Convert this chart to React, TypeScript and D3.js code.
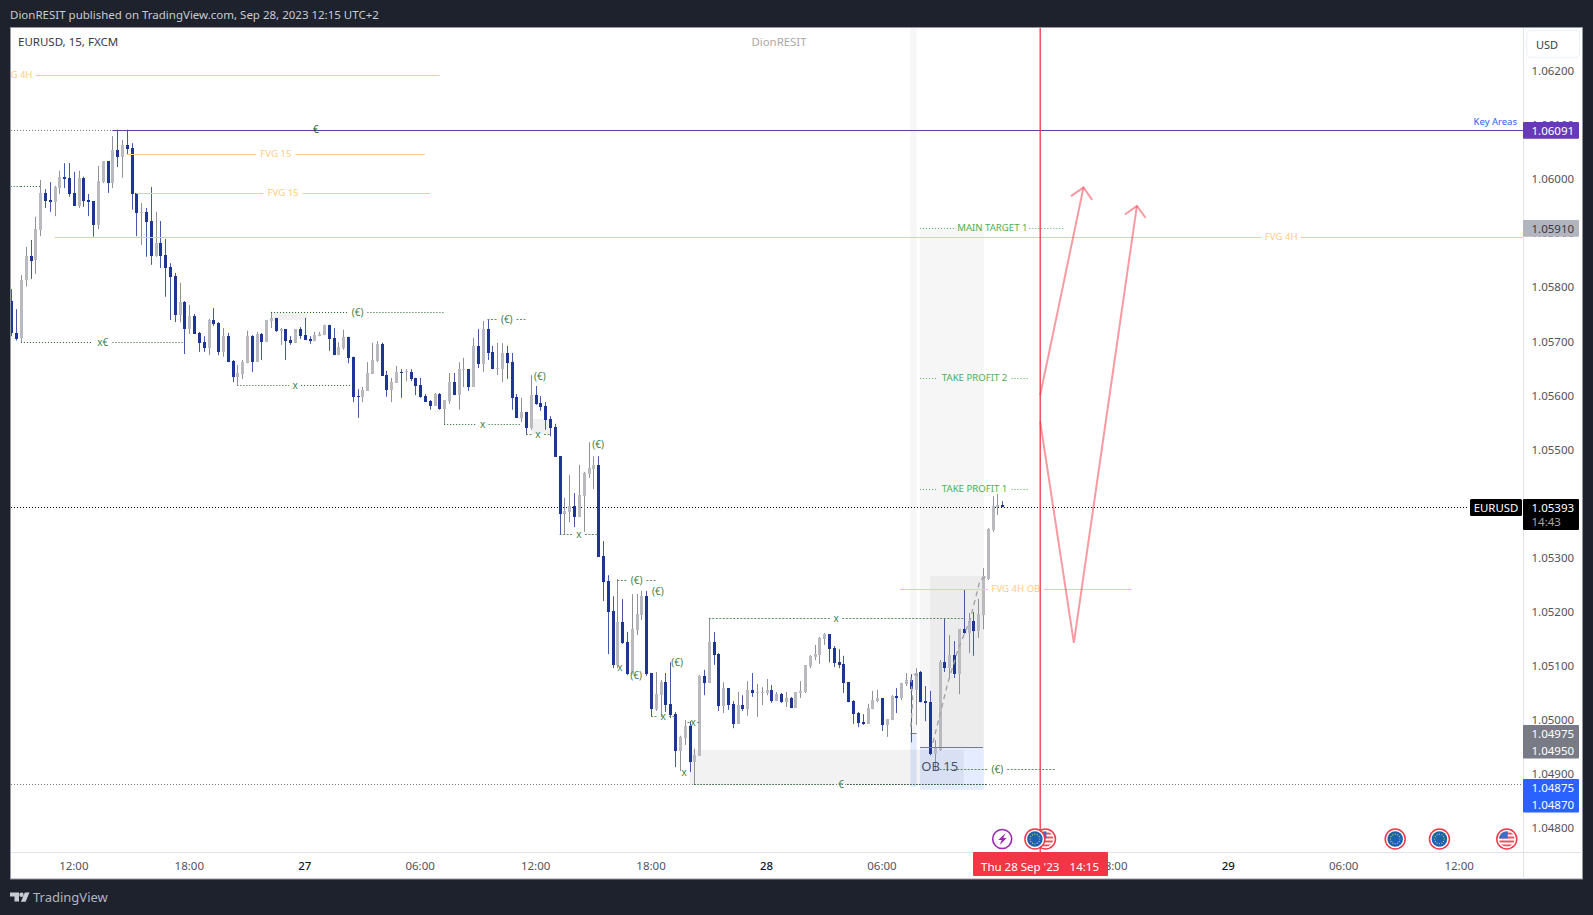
import React from 'react';
import * as d3 from 'd3';

const WIDTH = 1593;
const HEIGHT = 915;
const FONT = '"Noto Sans", sans-serif';

// 15 minute candles, EURUSD, in points (price x 100000)
const highs = [
  105796,105759,105822,105874,105887,105930,105998,105981,105994,105987,
  106015,106029,106029,106013,106015,106004,105972,105959,106024,106033,
  106033,106079,106091,106072,106091,106066,105974,105955,105946,105985,
  105939,105922,105889,105844,105826,105808,105774,105767,105750,105717,
  105709,105741,105761,105735,105724,105715,105665,105656,105665,105719,
  105711,105717,105715,105739,105754,105743,105724,105722,105709,105722,
  105726,105743,105709,105717,105717,105730,105730,105724,105698,105721,
  105708,105671,105611,105615,105661,105697,105700,105697,105645,105632,
  105654,105648,105648,105648,105632,105632,105602,105591,105604,105604,
  105591,105641,105641,105661,105669,105648,105706,105722,105737,105741,
  105691,105697,105696,105691,105678,105602,105595,105569,105637,105617,
  105598,105587,105561,105547,105487,105410,105452,105419,105471,105458,
  105513,105487,105487,105330,105267,105228,105260,105223,105162,105232,
  105232,105238,105238,105086,105088,105073,105086,105106,105014,104970,
  104999,104997,104946,105082,105092,105188,105162,105123,105069,105058,
  105034,105051,105045,105071,105086,105066,105060,105075,105064,105051,
  105049,105051,105042,105051,105071,105101,105119,105138,105153,105160,
  105158,105136,105130,105118,105069,105036,105014,105010,105029,105053,
  105055,105040,105001,105045,105058,105068,105086,105084,105095,105090,
  105062,105053,104962,105110,105187,105156,105145,105167,105241,105197,
  105199,105223,105280,105354,105413,105417,105404,
];
const opens = [
  105774,105715,105705,105812,105857,105849,105906,105974,105961,105958,
  105983,106004,106002,105974,105950,106002,105961,105959,105915,105994,
  106033,105992,106053,106041,106063,106057,105974,105937,105939,105922,
  105857,105881,105859,105837,105820,105748,105772,105722,105746,105715,
  105698,105687,105739,105734,105680,105709,105663,105633,105639,105659,
  105709,105661,105713,105698,105737,105743,105719,105722,105702,105697,
  105722,105711,105704,105700,105709,105711,105730,105706,105674,105687,
  105708,105671,105599,105597,105608,105639,105663,105695,105637,105610,
  105623,105643,105643,105643,105632,105619,105599,105589,105580,105602,
  105574,105589,105624,105600,105647,105648,105615,105691,105658,105722,
  105680,105648,105648,105678,105661,105597,105558,105569,105539,105600,
  105585,105580,105556,105541,105487,105380,105384,105395,105375,105413,
  105454,105463,105471,105302,105256,105201,105101,105180,105143,105084,
  105166,105193,105228,105086,105019,105045,105069,105029,105010,104942,
  104966,104988,104921,104933,105081,105068,105143,105121,105025,105058,
  105029,104992,105027,105019,105055,105049,105049,105049,105055,105034,
  105047,105032,105040,105021,105049,105051,105099,105116,105119,105149,
  105158,105132,105106,105103,105069,105034,105012,104995,104992,105019,
  105034,105040,104990,104999,105044,105040,105066,105073,105055,105088,
  105034,105032,104936,104944,105106,105095,105119,105084,105167,105160,
  105182,105164,105193,105260,105350,105393,105397,
];
const closes = [
  105714,105704,105813,105857,105848,105907,105974,105959,105957,105985,
  106003,106000,105972,105950,106002,105959,105957,105915,105996,106033,
  105992,106053,106041,106063,106055,105972,105937,105939,105920,105857,
  105881,105857,105835,105819,105748,105772,105722,105746,105713,105697,
  105687,105739,105732,105680,105709,105661,105633,105641,105661,105709,
  105661,105713,105698,105739,105743,105719,105722,105700,105697,105722,
  105709,105702,105700,105711,105713,105730,105704,105674,105689,105708,
  105669,105597,105597,105610,105641,105665,105695,105636,105610,105624,
  105643,105641,105645,105630,105617,105597,105587,105580,105602,105574,
  105591,105624,105600,105648,105648,105615,105691,105658,105722,105678,
  105648,105650,105678,105659,105595,105558,105569,105539,105600,105584,
  105578,105554,105539,105486,105380,105386,105395,105375,105415,105456,
  105465,105471,105301,105254,105199,105101,105180,105142,105084,105167,
  105195,105228,105084,105019,105047,105069,105027,105008,104942,104968,
  104988,104921,104934,105081,105068,105143,105119,105025,105058,105027,
  104992,105027,105019,105055,105049,105051,105051,105055,105034,105047,
  105032,105040,105021,105051,105053,105101,105118,105121,105151,105158,
  105130,105105,105101,105068,105032,105010,104994,104992,105021,105036,
  105040,104990,105001,105044,105040,105068,105073,105056,105086,105032,
  105031,104936,104947,105106,105095,105119,105084,105167,105160,105182,
  105164,105195,105265,105352,105395,105397,105393,
];
const lows = [
  105709,105701,105697,105801,105815,105824,105894,105946,105939,105931,
  105972,105983,105967,105950,105946,105948,105931,105893,105907,105992,
  105974,105983,106022,106002,106046,105943,105894,105878,105856,105841,
  105856,105835,105782,105739,105735,105735,105676,105713,105713,105680,
  105680,105674,105728,105674,105671,105661,105624,105618,105630,105659,
  105643,105661,105665,105698,105724,105717,105693,105665,105693,105697,
  105704,105702,105695,105700,105709,105711,105682,105674,105674,105684,
  105659,105587,105558,105587,105608,105639,105661,105636,105597,105587,
  105623,105595,105626,105626,105600,105595,105587,105573,105580,105573,
  105545,105584,105600,105573,105615,105608,105615,105650,105643,105665,
  105648,105637,105624,105630,105573,105558,105550,105526,105536,105582,
  105571,105536,105524,105486,105343,105343,105365,105356,105375,105347,
  105447,105426,105301,105219,105121,105095,105095,105140,105082,105084,
  105156,105184,105081,105005,105016,105005,105014,105003,104912,104905,
  104953,104903,104879,104933,105045,105068,105101,105016,105012,105018,
  104984,104992,105016,105007,105042,105005,105027,105045,105031,105034,
  105031,105023,105021,105021,105040,105049,105095,105110,105103,105138,
  105106,105097,105095,105049,105032,104992,104986,104990,104992,105019,
  105032,104979,104968,104999,105012,105036,105062,104958,104990,105032,
  104997,104934,104907,104942,105088,105075,105077,105047,105159,105123,
  105118,105151,105167,105258,105347,105378,105393,
];

// 1.05400 sits fully behind the last price label
const priceTicks = [1.062, 1.061, 1.06, 1.059, 1.058, 1.057, 1.056, 1.055, 1.053, 1.052, 1.051, 1.05, 1.049, 1.048];
// the 12:00 of the 28th is covered by the red cursor label
const timeLabels = ['12:00', '18:00', '27', '06:00', '12:00', '18:00', '28', '06:00', '18:00', '29', '06:00', '12:00'];
const timeBars = [13, 37, 61, 85, 109, 133, 157, 181, 229, 253, 277, 301];

// orange level lines, label sits in the middle of the line
const fvgLabels = ['FVG 4H', 'FVG 15', 'FVG 15', 'FVG 4H', 'FVG 4H OB'];
const fvgPrices = [1.06192, 1.06046, 1.05973, 1.05892, 1.05241];
const fvgFrom = [-87, 24, 26, 9, 184.7];
const fvgTo = [89, 86, 87, 519, 233];

// green structure lines
const structureLabels = ['', 'x€', '(€)', 'x', 'x', '(€)', 'x', 'x', '(€)', 'x', 'x', 'x', '€', '(€)'];
const structurePrices = [1.05986, 1.05698, 1.05753, 1.05618, 1.05546, 1.0574, 1.05528, 1.05343, 1.05259, 1.05187, 1.05007, 1.04996, 1.0488, 1.04908];
const structureFrom = [-2, 2, 54, 47, 90, 99, 107, 114, 126, 145, 133, 141, 142, 193];
const structureTo = [6, 36, 90, 71, 106, 107, 112, 122, 134, 198, 138, 142.5, 203, 217];
const structureDark = [true, true, true, true, true, false, false, false, false, false, false, false, true, false];

const markLabels = ['€', '(€)', '(€)', '(€)', 'x', '(€)', '(€)', 'x'];
const markBars = [63.3, 109.9, 122, 134.4, 126.5, 129.9, 138.4, 139.9];
const markPrices = [1.06091, 1.05635, 1.05508, 1.05236, 1.05097, 1.05082, 1.05105, 1.04902];

const targetLabels = ['MAIN TARGET 1', 'TAKE PROFIT 2', 'TAKE PROFIT 1'];
const targetPrices = [1.0591, 1.05631, 1.05426];
const targetTo = [219, 211.6, 211.6];

// shaded zones: [bar from, bar to, price top, price bottom, fill]
const zones: [number, number, number, number, string][] = [
  [54, 61.5, 1.05753, 1.05739, 'rgba(128,128,128,0.12)'],
  [108.2, 112, 1.05556, 1.05528, 'rgba(128,128,128,0.12)'],
  [141, 198, 1.04944, 1.0488, 'rgba(128,128,128,0.1)'],
  [186.9, 188.2, 1.0629, 1.04975, 'rgba(128,128,128,0.07)'],
  [186.9, 188.2, 1.04975, 1.04875, 'rgba(41,98,255,0.13)'],
  [188.9, 202.2, 1.0591, 1.0495, 'rgba(128,128,128,0.07)'],
  [191, 202.2, 1.05265, 1.0495, 'rgba(120,120,130,0.07)'],
  [188.9, 202.2, 1.0495, 1.0487, 'rgba(41,98,255,0.12)'],
];

// hand drawn arrows [bar, price]
const dashPathA: [number, number][] = [[191.6, 1.04957], [194.7, 1.05068], [196.8, 1.05129], [199.3, 1.05184], [201.4, 1.05258], [202.6, 1.05264]];
const dashPathB: [number, number][] = [[187, 1.04986], [187.4, 1.05036], [187, 1.05079], [187.9, 1.05084], [188.7, 1.05079]];
const pinkUp: [number, number][] = [[213.9, 1.056], [222.9, 1.05984]];
const pinkUpHead: [number, number][] = [[220.3, 1.05968], [222.9, 1.05984], [224.7, 1.05961]];
const pinkDown: [number, number][] = [[213.9, 1.05551], [220.9, 1.05142], [234, 1.0595]];
const pinkDownHead: [number, number][] = [[231.5, 1.05934], [234, 1.0595], [235.8, 1.05928]];

const eventTypes = ['bolt', 'us', 'eu', 'eu', 'eu', 'us'];
const eventBars = [206, 215, 212.8, 287.7, 296.9, 310.9];

const x = d3.scaleLinear().domain([0, 206]).range([11.3, 1002.2]);
const y = d3.scaleLinear().domain([1.062, 1.048]).range([70.7, 827.7]);

const PLOT_L = 11;
const PLOT_R = 1523;
const PLOT_T = 27;
const AXIS_Y = 852;
const FRAME_B = 879;
const FRAME_R = 1582.5;

const crisp = (v: number) => Math.round(v) + 0.5;
const pts = (list: [number, number][]) =>
  d3.line<[number, number]>().x(d => x(d[0])).y(d => y(d[1]))(list) || '';

const Label = ({ px, py, text, size = 10, fill = '#333', anchor = 'middle', weight = 400 }: any) => (
  <text x={px} y={py} fontSize={size} fill={fill} textAnchor={anchor} fontWeight={weight} dominantBaseline="central" fontFamily={FONT}>
    {text}
  </text>
);

const PriceBox = ({ top, rows, fill, rowH = 16.8, height }: { top: number; rows: [string, string][]; fill: string; rowH?: number; height?: number }) => (
  <g>
    <rect x={PLOT_R} y={top} width={56} height={height || rows.length * rowH} fill={fill} rx={1} />
    {rows.map(([t, c], i) => (
      <Label key={i} px={1531.5} py={top + 8.5 + i * rowH} text={t} size={11.5} fill={c} anchor="start" />
    ))}
  </g>
);

const EventIcon = ({ kind, cx, id }: { kind: string; cx: number; id: string }) => {
  const cy = 839;
  if (kind === 'bolt') {
    return (
      <g>
        <circle cx={cx} cy={cy} r={9.5} fill="#fff" stroke="#9c27b0" strokeWidth={1.6} />
        <path d={`M${cx + 3.5} ${cy - 6}L${cx - 4} ${cy + 1}H${cx - 0.5}L${cx - 2.5} ${cy + 6}L${cx + 4.5} ${cy - 1}H${cx + 1}Z`} fill="#9c27b0" />
      </g>
    );
  }
  return (
    <g>
      <circle cx={cx} cy={cy} r={10} fill="#fff" stroke="#f23645" strokeWidth={1.5} />
      <clipPath id={id}><circle cx={cx} cy={cy} r={7.8} /></clipPath>
      {kind === 'eu' ? (
        <g>
          <circle cx={cx} cy={cy} r={7.8} fill="#1a63b0" />
          {d3.range(12).map(i => (
            <circle key={i} cx={cx + 4.8 * Math.cos((i * Math.PI) / 6)} cy={cy + 4.8 * Math.sin((i * Math.PI) / 6)} r={0.6} fill="#e8d44a" />
          ))}
        </g>
      ) : (
        <g clipPath={`url(#${id})`}>
          <rect x={cx - 8} y={cy - 8} width={16} height={16} fill="#fff" />
          {d3.range(4).map(i => (
            <rect key={i} x={cx - 8} y={cy - 6.5 + i * 4} width={16} height={2} fill="#f0525c" />
          ))}
          <rect x={cx - 8} y={cy - 8} width={9} height={7.5} fill="#3d6fc4" />
        </g>
      )}
    </g>
  );
};

const App: React.FC = () => {
  const bars = highs.map((h, i) => ({ i, h: h / 1e5, o: opens[i] / 1e5, c: closes[i] / 1e5, l: lows[i] / 1e5 }));

  return (
    <svg width={WIDTH} height={HEIGHT} style={{ position: 'absolute', left: 0, top: 0, display: 'block' }}>
      <rect width={WIDTH} height={HEIGHT} fill="#1e222d" />
      <Label px={10} py={14.5} text="DionRESIT published on TradingView.com, Sep 28, 2023 12:15 UTC+2" size={11.5} fill="#c8cbd2" anchor="start" />

      {/* chart frame */}
      <rect x={10.5} y={27.5} width={FRAME_R - 10.5} height={FRAME_B - 27.5} fill="#fff" stroke="#9598a1" />

      <clipPath id="plot">
        <rect x={PLOT_L} y={PLOT_T + 1} width={PLOT_R - PLOT_L} height={AXIS_Y - PLOT_T - 1} />
      </clipPath>

      {/* price tick labels go under the coloured boxes */}
      {priceTicks.map(p => (
        <Label key={p} px={1531.5} py={y(p)} text={p.toFixed(5)} size={11.5} fill="#50535e" anchor="start" />
      ))}

      <g clipPath="url(#plot)">
        {zones.map((z, i) => (
          <rect key={i} x={x(z[0])} y={y(z[2])} width={x(z[1]) - x(z[0])} height={y(z[3]) - y(z[2])} fill={z[4]} />
        ))}

        {/* full width dotted levels */}
        <line x1={PLOT_L} x2={x(21)} y1={crisp(y(1.06091))} y2={crisp(y(1.06091))} stroke="#787b86" strokeDasharray="1 2" />
        <line x1={PLOT_L} x2={PLOT_R} y1={crisp(y(1.0488))} y2={crisp(y(1.0488))} stroke="#787b86" strokeDasharray="1 2" />
        <line x1={PLOT_L} x2={1468} y1={crisp(y(1.05393))} y2={crisp(y(1.05393))} stroke="#000" strokeDasharray="1 2" />

        {/* candles */}
        {bars.map(b => {
          const cx = Math.round(x(b.i));
          const up = b.c >= b.o;
          const top = Math.round(y(Math.max(b.o, b.c)));
          const bottom = Math.round(y(Math.min(b.o, b.c)));
          return (
            <g key={b.i}>
              <rect x={cx} y={y(b.h)} width={1} height={y(b.l) - y(b.h)} fill={up ? '#8f9196' : '#4558aa'} />
              <rect x={cx - 1} y={top} width={3} height={Math.max(bottom - top, 1)} fill={up ? '#b9bac0' : '#1f3497'} />
            </g>
          );
        })}

        {/* key area */}
        <line x1={x(21)} x2={PLOT_R} y1={crisp(y(1.06091))} y2={crisp(y(1.06091))} stroke="#673ab7" />

        {/* FVG lines */}
        {fvgLabels.map((t, i) => {
          const x1 = x(fvgFrom[i]);
          const x2 = x(fvgTo[i]);
          const mid = (x1 + x2) / 2;
          const gap = t.length * 2.7 + 3.5;
          const ly = crisp(y(fvgPrices[i]));
          return (
            <g key={i}>
              <line x1={x1} x2={mid - gap} y1={ly} y2={ly} stroke="#ffcc80" />
              <line x1={mid + gap} x2={x2} y1={ly} y2={ly} stroke="#ffcc80" />
              <Label px={mid} py={ly - 0.8} text={t} size={9.6} fill="#ffcc80" />
            </g>
          );
        })}

        {/* structure lines */}
        {structureLabels.map((t, i) => {
          const x1 = x(structureFrom[i]);
          const x2 = x(structureTo[i]);
          const mid = (x1 + x2) / 2;
          const gap = !t ? 0 : t.length > 1 ? 9.8 : 6;
          const ly = crisp(y(structurePrices[i]));
          const col = structureDark[i] ? '#1b5e20' : '#5f8f63';
          const dash = structureDark[i] ? '1 2' : '2 1.5';
          return (
            <g key={i}>
              <line x1={x1} x2={mid - gap} y1={ly} y2={ly} stroke={col} strokeDasharray={dash} />
              <line x1={mid + gap} x2={x2} y1={ly} y2={ly} stroke={col} strokeDasharray={dash} />
              {t && <Label px={mid} py={ly - 0.8} text={t} size={10} fill="#3f8043" />}
            </g>
          );
        })}
        {markLabels.map((t, i) => (
          <Label key={i} px={x(markBars[i])} py={y(markPrices[i]) - 0.5} text={t} size={10} fill={t === '€' ? '#1b5e20' : '#3f8043'} />
        ))}

        {/* targets */}
        {targetLabels.map((t, i) => {
          const x1 = x(188.9);
          const x2 = x(targetTo[i]);
          const mid = (x1 + x2) / 2;
          const ly = crisp(y(targetPrices[i]));
          const gap = 37;
          return (
            <g key={i}>
              <line x1={x1} x2={mid - gap} y1={ly} y2={ly} stroke="#4caf50" strokeDasharray="1 2" />
              <line x1={mid + gap} x2={x2} y1={ly} y2={ly} stroke="#4caf50" strokeDasharray="1 2" />
              <Label px={mid} py={ly - 0.8} text={t} size={9.6} fill="#4caf50" />
            </g>
          );
        })}

        {/* order block */}
        <line x1={x(188.9)} x2={x(202)} y1={crisp(y(1.0495))} y2={crisp(y(1.0495))} stroke="#787b86" />
        <line x1={x(186.9)} x2={x(188.2)} y1={crisp(y(1.04975))} y2={crisp(y(1.04975))} stroke="#787b86" />
        <Label px={x(193)} py={y(1.04914)} text="OB 15" size={13} fill="#4a5170" />

        <path d={pts(dashPathA)} fill="none" stroke="#a3a5ab" strokeWidth={1.4} strokeDasharray="5 4" />
        <path d={pts(dashPathB)} fill="none" stroke="#a3a5ab" strokeWidth={1.4} strokeDasharray="5 4" />

        {/* red time marker and the pink projections */}
        <line x1={x(213.9)} x2={x(213.9)} y1={PLOT_T} y2={AXIS_Y} stroke="#f23645" strokeWidth={1.3} />
        {[pinkUp, pinkUpHead, pinkDown, pinkDownHead].map((p, i) => (
          <path key={i} d={pts(p)} fill="none" stroke="#f23645" strokeOpacity={0.5} strokeWidth={2} />
        ))}

        <Label px={PLOT_R - 6} py={121.5} text="Key Areas" size={9.5} fill="#2962ff" anchor="end" />
        <Label px={18} py={41.5} text="EURUSD, 15, FXCM" size={11.5} fill="#363a45" anchor="start" />
        <Label px={779} py={41.5} text="DionRESIT" size={11.4} fill="#a8a8a8" />
      </g>

      {/* axes */}
      <line x1={crisp(PLOT_R)} x2={crisp(PLOT_R)} y1={28} y2={FRAME_B} stroke="#e0e3eb" />
      <line x1={11} x2={FRAME_R} y1={AXIS_Y + 0.5} y2={AXIS_Y + 0.5} stroke="#e0e3eb" />
      <rect x={1526.5} y={30.5} width={53} height={27} rx={4} fill="#fff" stroke="#f0f3fa" strokeWidth={1.5} />
      <Label px={1536} py={44.5} text="USD" size={11} fill="#363a45" anchor="start" />

      {timeLabels.map((t, i) => (
        <Label key={i} px={x(timeBars[i])} py={865} text={t} size={11.5} fill={t.length < 3 ? '#131722' : '#50535e'} weight={t.length < 3 ? 500 : 400} />
      ))}

      {eventTypes.map((k, i) => (
        <EventIcon key={i} kind={k} cx={x(eventBars[i])} id={`ev${i}`} />
      ))}

      {/* time cursor label */}
      <rect x={973} y={852} width={135} height={24} rx={1} fill="#f23645" />
      <Label px={981} py={866.5} text="Thu 28 Sep '23" size={11.5} fill="#fff" anchor="start" />
      <Label px={1099} py={866.5} text="14:15" size={11.5} fill="#fff" anchor="end" />

      {/* price labels */}
      <PriceBox top={122} rows={[['1.06091', '#ffffff']]} fill="#673ab7" />
      <PriceBox top={220} rows={[['1.05910', '#363a45']]} fill="#b2b5be" />
      <PriceBox top={725} rows={[['1.04975', '#ffffff'], ['1.04950', '#ffffff']]} fill="#787b86" />
      <PriceBox top={779} rows={[['1.04875', '#ffffff'], ['1.04870', '#ffffff']]} fill="#2962ff" />
      <rect x={1470} y={499} width={52} height={17} rx={1.5} fill="#000" />
      <Label px={1496} py={507.5} text="EURUSD" size={11.4} fill="#fff" />
      <PriceBox top={499} rows={[['1.05393', '#ffffff'], ['14:43', '#a8a8a8']]} fill="#000" rowH={14} height={31} />

      {/* footer */}
      <g fill="#c8cbd2">
        <path d="M10 892.5h9v9h-4.5v-5H10z" />
        <circle cx={21.5} cy={894.7} r={2.2} />
        <path d="M24.8 892.5H29.5L25.6 901.7H20.9z" />
      </g>
      <Label px={33} py={897} text="TradingView" size={13} fill="#b2b5be" anchor="start" />
    </svg>
  );
};

export default App;
